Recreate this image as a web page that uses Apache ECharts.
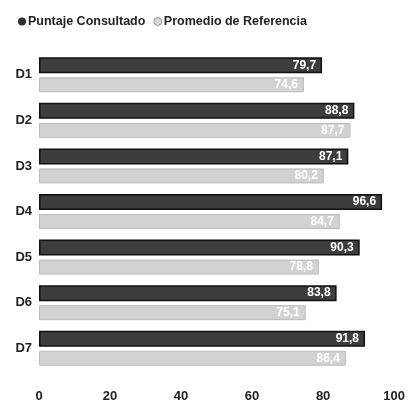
<!DOCTYPE html>
<html>
<head>
<meta charset="utf-8">
<script src="https://cdn.jsdelivr.net/npm/echarts@6/dist/echarts.min.js"></script>
<style>
  html, body { margin: 0; padding: 0; background: #fff; }
  #chart { width: 408px; height: 406px; }
</style>
</head>
<body>
<div id="chart"></div>
<script>
const categories = ['D1', 'D2', 'D3', 'D4', 'D5', 'D6', 'D7'];
const puntajeConsultado = [79.7, 88.8, 87.1, 96.6, 90.3, 83.8, 91.8];
const promedioReferencia = [74.6, 87.7, 80.2, 84.7, 78.8, 75.1, 86.4];
const xTicks = [0, 20, 40, 60, 80, 100];

const font = 'Liberation Sans, Arial, sans-serif';
const commaLabel = p => p.value.toFixed(1).replace('.', ',');

const chart = echarts.init(document.getElementById('chart'));
chart.setOption({
  animation: false,
  backgroundColor: '#ffffff',
  legend: {
    left: 13,
    top: 10,
    itemWidth: 8,
    itemHeight: 8,
    itemGap: 8,
    icon: 'circle',
    textStyle: { fontFamily: font, fontSize: 12.5, fontWeight: 'bold', color: '#222', padding: [0, 0, 0, -3] },
    data: [
      { name: 'Puntaje Consultado', itemStyle: { color: '#2e2e2e', borderWidth: 0 } },
      { name: 'Promedio de Referencia', itemStyle: { color: '#d8d8d8', borderColor: '#999', borderWidth: 1 } }
    ]
  },
  grid: { left: 39, right: 12, top: 52, bottom: 35 },
  xAxis: {
    type: 'value',
    min: xTicks[0],
    max: xTicks[xTicks.length - 1],
    interval: 20,
    axisLine: { show: false },
    axisTick: { show: false },
    splitLine: { show: false },
    axisLabel: { margin: 19, fontFamily: font, fontSize: 13, fontWeight: 'bold', color: '#222' }
  },
  yAxis: {
    type: 'category',
    inverse: true,
    data: categories,
    axisLine: { show: false },
    axisTick: { show: false },
    axisLabel: { margin: 7, fontFamily: font, fontSize: 13, fontWeight: 'bold', color: '#222' }
  },
  series: [
    {
      name: 'Puntaje Consultado',
      type: 'bar',
      data: puntajeConsultado,
      barWidth: 16,
      barGap: '25%',
      itemStyle: { color: '#3d3d3d', borderColor: '#111', borderWidth: 1.5 },
      label: { show: true, position: 'insideRight', offset: [-1, 0], formatter: commaLabel, color: '#fff', fontFamily: font, fontSize: 12, fontWeight: 'bold' }
    },
    {
      name: 'Promedio de Referencia',
      type: 'bar',
      data: promedioReferencia,
      barWidth: 15,
      itemStyle: { color: '#d2d2d2', borderColor: '#bbb', borderWidth: 1 },
      label: { show: true, position: 'insideRight', offset: [-1, 0], formatter: commaLabel, color: '#fff', fontFamily: font, fontSize: 12, fontWeight: 'bold' }
    }
  ]
});
</script>
</body>
</html>
